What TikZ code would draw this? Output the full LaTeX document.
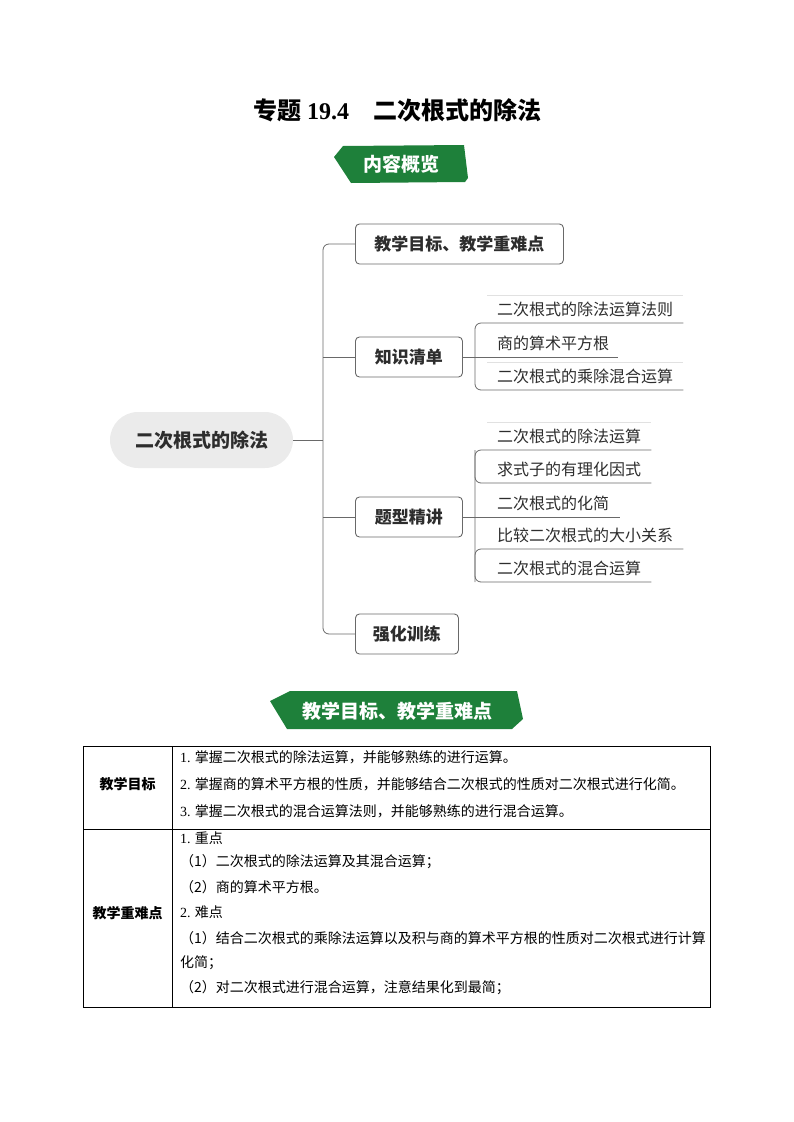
\documentclass[tikz,border=0pt]{standalone}
\usepackage{fontspec}
\setmainfont{Noto Sans CJK SC}
\newfontfamily\tnr{Liberation Serif}
\definecolor{bannergreen}{RGB}{30,128,58}
\definecolor{linegray}{RGB}{105,105,105}
\definecolor{txt}{RGB}{45,45,45}
\definecolor{pillgray}{RGB}{235,235,235}
\definecolor{faintgray}{RGB}{225,225,225}
\newcommand\fsz[1]{\fontsize{#1}{#1}\selectfont}
\begin{document}
\begin{tikzpicture}[x=1pt,y=-1pt,
  conn/.style={draw=linegray, line width=0.8pt},
  faint/.style={draw=faintgray, line width=0.6pt},
  branch/.style={draw=linegray, line width=0.9pt, rounded corners=4pt, minimum height=40pt, inner xsep=0pt, anchor=west, text=txt, font=\fsz{17}\bfseries},
  leaf/.style={anchor=south west, minimum height=27pt, inner ysep=0pt, inner xsep=10pt, text width=#1, align=left, text=txt, font=\fsz{16}},
  pillnode/.style={fill=pillgray, rounded corners=28pt, minimum width=183pt, minimum height=56pt, text=txt, font=\fsz{19}\bfseries},
  banner/.style={fill=bannergreen},
  bannertext/.style={text=white, font=\fsz{19}\bfseries},
  tbl/.style={draw=black, line width=0.8pt},
  cellhead/.style={text=black, font=\fsz{14}\bfseries},
  celltext/.style={anchor=west, inner xsep=0pt, text=black, font=\fsz{14}}
]
\useasboundingbox (0,0) rectangle (793,1122);

% title
\node[text=black, font=\fsz{24}\bfseries] (title) at (397,110) {专题\hspace{6pt}{\tnr\bfseries 19.4}\hspace{24pt}二次根式的除法};

% banner 1
\fill[banner] (343,146) -- (464,145) -- (468,178) -- (465,182) -- (351,183) -- (334,157) -- cycle;
\node[bannertext] (ban1) at (401,164) {内容概览};

% mind map
\node[pillnode] (c) at (201.5,440) {二次根式的除法};
\node[branch, minimum width=208pt] (b1) at (355,244) {教学目标、教学重难点};
\node[branch, minimum width=107pt] (b2) at (355,357) {知识清单};
\node[branch, minimum width=107pt] (b3) at (355,517) {题型精讲};
\node[branch, minimum width=103pt] (b4) at (355,634) {强化训练};

\coordinate (tr) at (323,440);
\draw[conn] (c.east) -- (tr);
\draw[conn, rounded corners=6pt] (b1.west) -- (b1.west -| tr) -- (b4.west -| tr) -- (b4.west);
\draw[conn] (b2.west -| tr) -- (b2.west);
\draw[conn] (b3.west -| tr) -- (b3.west);

% knowledge list
\coordinate (kj) at (475,357);
\node[leaf=176pt] (k1) at (487,323) {二次根式的除法运算法则};
\node[leaf=111pt] (k2) at (487,357) {商的算术平方根};
\node[leaf=176pt] (k3) at (487,390) {二次根式的乘除混合运算};
\draw[faint] (k1.north west) -- (k1.north east);
\draw[faint] (k3.north west) -- (k3.north east);
\draw[conn] (b2.east) -- (k2.south east);
\draw[conn, rounded corners=6pt] (k1.south east) -- (k1.south west -| kj) -- (k3.south west -| kj) -- (k3.south east);

% question types
\coordinate (tj) at (475,517);
\node[leaf=144pt] (t1) at (487,450) {二次根式的除法运算};
\node[leaf=144pt] (t2) at (487,483) {求式子的有理化因式};
\node[leaf=113pt] (t3) at (487,517) {二次根式的化简};
\node[leaf=176pt] (t4) at (487,549) {比较二次根式的大小关系};
\node[leaf=144pt] (t5) at (487,582) {二次根式的混合运算};
\draw[faint] (t1.north west) -- (t1.north east);
\draw[conn] (b3.east) -- (t3.south east);
\draw[conn, rounded corners=6pt] (t1.south east) -- (t1.south west -| tj) -- (t5.south west -| tj) -- (t5.south east);
\draw[conn, rounded corners=6pt] (t1.south west -| tj) -- (t2.south west -| tj) -- (t2.south east);
\draw[conn, rounded corners=6pt] (t5.south west -| tj) -- (t4.south west -| tj) -- (t4.south east);

% banner 2
\fill[banner] (290,691) -- (517,691) -- (523,719) -- (512,729) -- (287,729) -- (270,701) -- cycle;
\node[bannertext] (ban2) at (397,711) {教学目标、教学重难点};

% table
\draw[tbl] (83,746) rectangle (710,1007);
\draw[tbl] (172,746) -- (172,1007);
\draw[tbl] (83,829) -- (710,829);
\node[cellhead] (h1) at (127.5,784) {教学目标};
\node[cellhead] (h2) at (127.5,913) {教学重难点};

\node[celltext] (r1) at (180,757) {{\tnr 1.} 掌握二次根式的除法运算，并能够熟练的进行运算。};
\node[celltext] (r2) at (180,784) {{\tnr 2.} 掌握商的算术平方根的性质，并能够结合二次根式的性质对二次根式进行化简。};
\node[celltext] (r3) at (180,811) {{\tnr 3.} 掌握二次根式的混合运算法则，并能够熟练的进行混合运算。};

\node[celltext] (s1) at (180,838) {{\tnr 1.} 重点};
\node[celltext] (s2) at (180,862) {（1）二次根式的除法运算及其混合运算；};
\node[celltext] (s3) at (180,887) {（2）商的算术平方根。};
\node[celltext] (s4) at (180,912) {{\tnr 2.} 难点};
\node[celltext] (s5) at (180,938) {（1）结合二次根式的乘除法运算以及积与商的算术平方根的性质对二次根式进行计算};
\node[celltext] (s6) at (180,963) {化简；};
\node[celltext] (s7) at (180,988) {（2）对二次根式进行混合运算，注意结果化到最简；};
\end{tikzpicture}
\end{document}
